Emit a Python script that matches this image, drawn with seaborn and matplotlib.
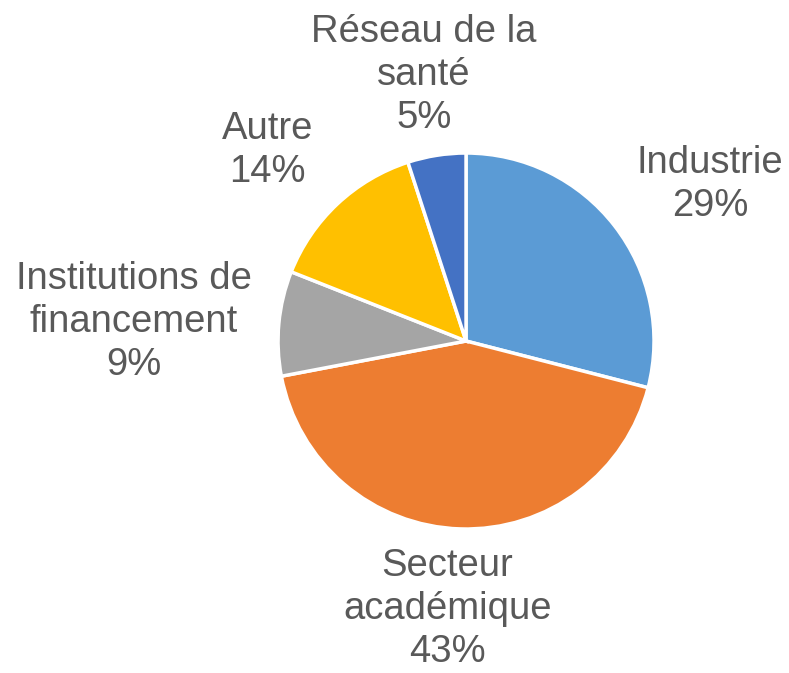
import numpy as np
import matplotlib
matplotlib.use("Agg")
import matplotlib.pyplot as plt
import seaborn as sns

sns.set_theme(style="white")
plt.rcParams['font.family'] = ['Liberation Sans', 'DejaVu Sans']

# data
categories = ["Industrie", "Secteur\nacadémique", "Institutions de\nfinancement", "Autre", "Réseau de la\nsanté"]
shares = [29, 43, 9, 14, 5]
colors = ["#5B9BD5", "#ED7D31", "#A5A5A5", "#FFC000", "#4472C4"]
# label centres, in pie radii from the centre
label_pos = [(1.298, 0.830), (-0.098, -1.425), (-1.769, 0.101), (-1.056, 1.011), (-0.223, 1.415)]

fig = plt.figure(figsize=(7.89, 6.73), dpi=100)
ax = fig.add_axes([0, 0, 1, 1])

wedges, _ = ax.pie(shares, colors=colors, startangle=90, counterclock=False,
                   radius=1, wedgeprops=dict(edgecolor="white", linewidth=2.5))

total = sum(shares)
for name, s, (x, y) in zip(categories, shares, label_pos):
    ax.text(x, y, f"{name}\n{round(100 * s / total)}%",
            ha="center", va="center", fontsize=27.5, color="#595959", linespacing=1.25)

ax.set_xlim(-2.479, 1.718)
ax.set_ylim(-1.766, 1.814)
ax.set_aspect("equal")
ax.axis("off")

fig.savefig("out.png", dpi=100)
